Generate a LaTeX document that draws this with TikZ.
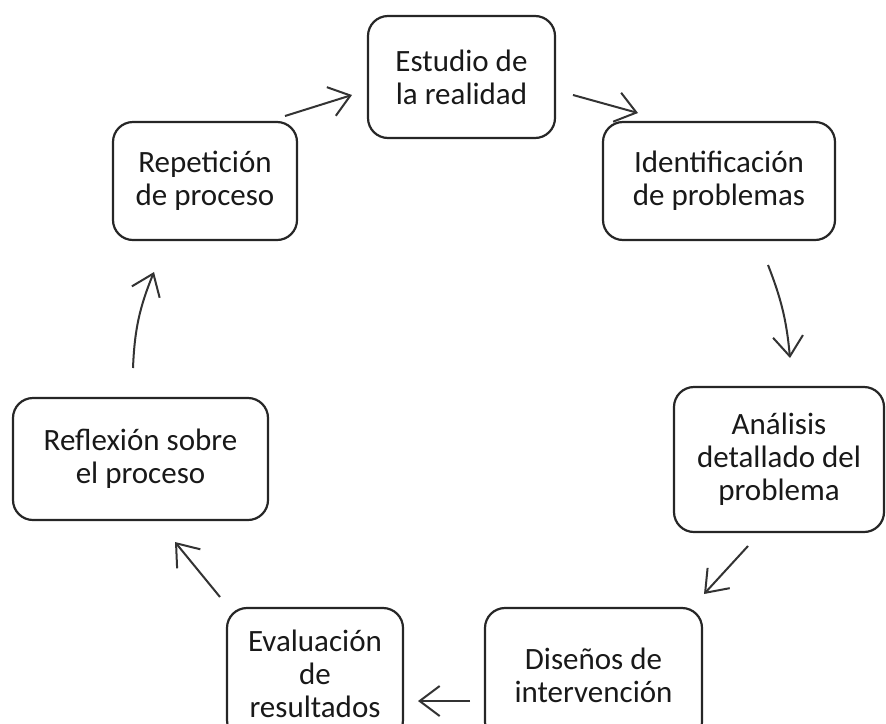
\documentclass[tikz,border=0pt]{standalone}
\usepackage{fontspec}
\setmainfont{Carlito}
\usepackage{tikz}
\usetikzlibrary{arrows.meta}

\tikzset{
  stagebox/.style={draw=black!85, line width=1.1pt, rounded corners=10pt,
    align=center, inner sep=0pt, text=black!90,
    font=\fontsize{15.5}{16.5}\selectfont},
  cyclearrow/.style={draw=black!80, line width=1pt,
    -{Straight Barb[length=10pt,width=15pt]}}
}

\begin{document}
\begin{tikzpicture}[x=0.5pt, y=-0.5pt]
            \useasboundingbox (0,0) rectangle (886,723);
            \clip (0,0) rectangle (886,723);

            % Stage boxes of the cycle
            \node (estudio) at (461.5,77) [stagebox, minimum width=93.5pt, minimum height=61pt] {Estudio de\\la realidad};%
            \node (identif) at (719,181) [stagebox, minimum width=116pt, minimum height=59pt] {Identificación\\de problemas};%
            \node (analisis) at (779,459.5) [stagebox, minimum width=105pt, minimum height=72.5pt] {Análisis\\detallado del\\problema};%
            \node (disenos) at (593.5,675) [stagebox, minimum width=108.5pt, minimum height=67pt] {Diseños de\\intervención};%
            \node (evaluac) at (315,674) [stagebox, minimum width=88pt, minimum height=66pt] {Evaluación\\de\\resultados};%
            \node (reflex) at (140.5,459) [stagebox, minimum width=127.5pt, minimum height=61pt] {Reflexión sobre\\el proceso};%
            \node (repetic) at (205,181) [stagebox, minimum width=92pt, minimum height=59pt] {Repetición\\de proceso};%

            % Arrow ends
            \coordinate (a1s) at (285,116);  \coordinate (a1e) at (352,95);%
            \coordinate (a2s) at (573,95);   \coordinate (a2e) at (638,113);%
            \coordinate (a3s) at (768,265);  \coordinate (a3e) at (790,358);%
            \coordinate (a4s) at (748,546);  \coordinate (a4e) at (704,594);%
            \coordinate (a5s) at (470,701);  \coordinate (a5e) at (418,701);%
            \coordinate (a6s) at (220,597);  \coordinate (a6e) at (175,542);%
            \coordinate (a7s) at (133,368);  \coordinate (a7e) at (154,272);%

            % Drawing arrows round the cycle
            \draw [cyclearrow] (a1s) -- (a1e);%
            \draw [cyclearrow] (a2s) -- (a2e);%
            \draw [cyclearrow] (a3s) to[bend left=8] (a3e);%
            \draw [cyclearrow] (a4s) -- (a4e);%
            \draw [cyclearrow] (a5s) -- (a5e);%
            \draw [cyclearrow] (a6s) -- (a6e);%
            \draw [cyclearrow] (a7s) to[bend left=10] (a7e);%
\end{tikzpicture}
\end{document}
